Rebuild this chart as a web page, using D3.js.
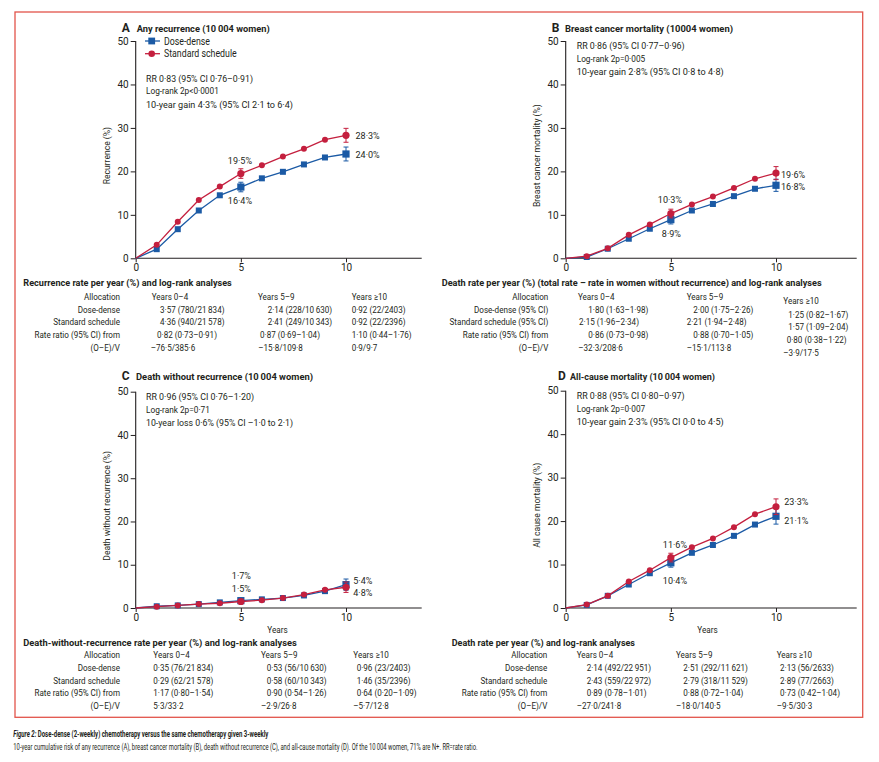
<!DOCTYPE html>
<html><head><meta charset="utf-8">
<script src="https://cdn.jsdelivr.net/npm/d3@7"></script>
<style>
body{margin:0;background:#fff}
svg{display:block}
text{font-family:Roboto,"Noto Sans",sans-serif;fill:#231f20}
</style>
</head><body>
<svg id="c" width="879" height="762"></svg>
<script>
// ---------------- DATA ----------------
const years = [0,1,2,3,4,5,6,7,8,9,10];
const seriesNames = ["Dose-dense","Standard schedule"];

const recurrenceDoseDense = [0,2.1,6.7,11.0,14.5,16.4,18.4,19.9,21.6,23.2,24.0];
const recurrenceStandard  = [0,3.1,8.4,13.4,16.5,19.5,21.4,23.4,25.2,27.3,28.3];
const bcMortDoseDense     = [0,0.3,2.2,4.5,6.8,8.9,11.0,12.5,14.3,16.0,16.8];
const bcMortStandard      = [0,0.5,2.3,5.4,7.8,10.3,12.4,14.2,16.2,18.3,19.6];
const dwrDoseDense        = [0,0.4,0.6,0.9,1.3,1.7,2.0,2.3,2.9,3.9,5.4];
const dwrStandard         = [0,0.3,0.6,0.9,1.1,1.5,1.8,2.3,3.1,4.2,4.8];
const allMortDoseDense    = [0,0.7,2.8,5.4,8.0,10.4,12.7,14.5,16.6,19.2,21.1];
const allMortStandard     = [0,0.8,2.8,6.1,8.7,11.6,14.0,16.0,18.6,21.6,23.3];

// error bar half-widths at years 5 and 10
const errYears = [5,10];
const recurrenceErrDD = [1.1,1.6], recurrenceErrSS = [1.1,1.6];
const bcMortErrDD = [1.0,1.4], bcMortErrSS = [1.0,1.5];
const dwrErrDD = [0.4,1.3], dwrErrSS = [0.4,1.2];
const allMortErrDD = [1.0,1.8], allMortErrSS = [1.0,1.8];

const yTicks = [0,10,20,30,40,50];
const xTicks = [0,5,10];

const panelLetters = ["A","B","C","D"];
const panelTitles = ["Any recurrence (10\u2009004 women)","Breast cancer mortality (10004 women)","Death without recurrence (10\u2009004 women)","All-cause mortality (10\u2009004 women)"];
const yTitles = ["Recurrence (%)","Breast cancer mortality (%)","Death without recurrence (%)","All cause mortality (%)"];

const statsA = ["RR 0\u00b783 (95% CI 0\u00b776\u20130\u00b791)","Log-rank 2p<0\u00b70001","10-year gain 4\u00b73% (95% CI 2\u00b71 to 6\u00b74)"];
const statsB = ["RR 0\u00b786 (95% CI 0\u00b777\u20130\u00b796)","Log-rank 2p=0\u00b7005","10-year gain 2\u00b78% (95% CI 0\u00b78 to 4\u00b78)"];
const statsC = ["RR 0\u00b796 (95% CI 0\u00b776\u20131\u00b720)","Log-rank 2p=0\u00b771","10-year loss 0\u00b76% (95% CI \u20131\u00b70 to 2\u00b71)"];
const statsD = ["RR 0\u00b788 (95% CI 0\u00b780\u20130\u00b797)","Log-rank 2p=0\u00b7007","10-year gain 2\u00b73% (95% CI 0\u00b70 to 4\u00b75)"];

const valueLabelsA = ["19\u00b75%","16\u00b74%","28\u00b73%","24\u00b70%"];
const valueLabelsB = ["10\u00b73%","8\u00b79%","19\u00b76%","16\u00b78%"];
const valueLabelsC = ["1\u00b77%","1\u00b75%","5\u00b74%","4\u00b78%"];
const valueLabelsD = ["11\u00b76%","10\u00b74%","23\u00b73%","21\u00b71%"];

const tableTitles = ["Recurrence rate per year (%) and log-rank analyses",
  "Death rate per year (%) (total rate \u2013 rate in women without recurrence) and log-rank analyses",
  "Death-without-recurrence rate per year (%) and log-rank analyses",
  "Death rate per year (%) and log-rank analyses"];
const colHeaders = ["Years 0\u20134","Years 5\u20139","Years \u226510"];
const rowLabelsA = ["Dose-dense","Standard schedule","Rate ratio (95% CI) from","(O\u2013E)/V"];
const rowLabelsB = ["Dose-dense (95% CI)","Standard schedule (95% CI)","Rate ratio (95% CI) from","(O\u2013E)/V"];
const tableA = [["3\u00b757 (780/21\u2009834)","2\u00b714 (228/10\u2009630)","0\u00b792 (22/2403)"],
                ["4\u00b736 (940/21\u2009578)","2\u00b741 (249/10\u2009343)","0\u00b792 (22/2396)"],
                ["0\u00b782 (0\u00b773\u20130\u00b791)","0\u00b787 (0\u00b769\u20131\u00b704)","1\u00b710 (0\u00b744\u20131\u00b776)"],
                ["\u201376\u00b75/385\u00b76","\u201315\u00b78/109\u00b78","0\u00b79/9\u00b77"]];
const tableB = [["1\u00b780 (1\u00b763\u20131\u00b798)","2\u00b700 (1\u00b775\u20132\u00b726)","1\u00b725 (0\u00b782\u20131\u00b767)"],
                ["2\u00b715 (1\u00b796\u20132\u00b734)","2\u00b721 (1\u00b794\u20132\u00b748)","1\u00b757 (1\u00b709\u20132\u00b704)"],
                ["0\u00b786 (0\u00b773\u20130\u00b798)","0\u00b788 (0\u00b770\u20131\u00b705)","0\u00b780 (0\u00b738\u20131\u00b722)"],
                ["\u201332\u00b73/208\u00b76","\u201315\u00b71/113\u00b78","\u20133\u00b79/17\u00b75"]];
const tableC = [["0\u00b735 (76/21\u2009834)","0\u00b753 (56/10\u2009630)","0\u00b796 (23/2403)"],
                ["0\u00b729 (62/21\u2009578)","0\u00b758 (60/10\u2009343)","1\u00b746 (35/2396)"],
                ["1\u00b717 (0\u00b780\u20131\u00b754)","0\u00b790 (0\u00b754\u20131\u00b726)","0\u00b764 (0\u00b720\u20131\u00b709)"],
                ["5\u00b73/33\u00b72","\u20132\u00b79/26\u00b78","\u20135\u00b77/12\u00b78"]];
const tableD = [["2\u00b714 (492/22\u2009951)","2\u00b751 (292/11\u2009621)","2\u00b713 (56/2633)"],
                ["2\u00b743 (559/22\u2009972)","2\u00b779 (318/11\u2009529)","2\u00b789 (77/2663)"],
                ["0\u00b789 (0\u00b778\u20131\u00b701)","0\u00b788 (0\u00b772\u20131\u00b704)","0\u00b773 (0\u00b742\u20131\u00b704)"],
                ["\u201327\u00b70/241\u00b78","\u201318\u00b70/140\u00b75","\u20139\u00b75/30\u00b73"]];

const captionLabel = "Figure 2: ";
const captionBold = "Dose-dense (2-weekly) chemotherapy versus the same chemotherapy given 3-weekly";
const captionText = "10-year cumulative risk of any recurrence (A), breast cancer mortality (B), death without recurrence (C), and all-cause mortality (D). Of the 10\u2009004 women, 71% are N+. RR=rate ratio.";

// ---------------- STYLE / LAYOUT ----------------
const BLUE = "#1b5aa5", RED = "#c41f3e", INK = "#231f20";
const K = 0.86; // horizontal condensing of text
const svg = d3.select("#c");

function condense(sel, k){ sel.each(function(){ const w=this.getComputedTextLength(); d3.select(this).attr("textLength", w*(k||K)).attr("lengthAdjust","spacingAndGlyphs"); }); return sel; }
function fitW(sel, w){ return sel.attr("textLength", w).attr("lengthAdjust","spacingAndGlyphs"); }

svg.append("rect").attr("x",15).attr("y",12).attr("width",847.7).attr("height",705.3)
  .attr("fill","none").attr("stroke","#e2544b").attr("stroke-width",1.3);

const panels = [
  {L:135.7, xEnd:421.7, yTop:41, yBot:258.3, dd:recurrenceDoseDense, ss:recurrenceStandard, eDD:recurrenceErrDD, eSS:recurrenceErrSS,
   stats:statsA, sx:146, sy:[81.6,94.3,107.6], sw:[107,null,147], labels:valueLabelsA,
   lab:[["ss",5,-13,-10],["dd",5,-13,16.5],["ss",10,9.5,4],["dd",10,9.5,4.5]], titleX:[121.7,136.7], titleW:133, titleY:32, yTitleX:106.7, years:false},
  {L:565.7, xEnd:856.7, yTop:41, yBot:258.3, dd:bcMortDoseDense, ss:bcMortStandard, eDD:bcMortErrDD, eSS:bcMortErrSS,
   stats:statsB, sx:576.7, sy:[49.3,62,74.8], sw:[108,null,147], labels:valueLabelsB,
   lab:[["ss",5,-13,-11],["dd",5,-9,17],["ss",10,5,4.7],["dd",10,5,4.5]], titleX:[551.7,565], titleW:168, titleY:32, yTitleX:536.7, years:false},
  {L:135.7, xEnd:421.7, yTop:391.7, yBot:608, dd:dwrDoseDense, ss:dwrStandard, eDD:dwrErrDD, eSS:dwrErrSS,
   stats:statsC, sx:146, sy:[400,412.6,425.6], sw:[108,null,147], labels:valueLabelsC,
   lab:[["dd",5,-9,-22],["ss",5,-9,-9.7],["dd",10,7.3,-1],["ss",10,7.3,8.3]], titleX:[121.7,136], titleW:177, titleY:379.5, yTitleX:106.7, years:true},
  {L:565.7, xEnd:856.7, yTop:390.7, yBot:608, dd:allMortDoseDense, ss:allMortStandard, eDD:allMortErrDD, eSS:allMortErrSS,
   stats:statsD, sx:576.7, sy:[399,411.6,425], sw:[108,null,147], labels:valueLabelsD,
   lab:[["ss",5,-8,-9.8],["dd",5,-8,21.4],["ss",10,8.3,-1.5],["dd",10,8.3,8.2]], titleX:[558,570], titleW:145, titleY:379.5, yTitleX:536.7, years:true}
];

panels.forEach((p,i)=>{
  const g = svg.append("g");
  const x10 = (i%2===0)?346:776;
  const x = d3.scaleLinear().domain([0,10]).range([p.L, x10]);
  const y = d3.scaleLinear().domain([0,50]).range([p.yBot, p.yTop]);

  g.append("text").attr("x",p.titleX[0]).attr("y",p.titleY).attr("font-weight","bold").attr("font-size",12).text(panelLetters[i]);
  fitW(g.append("text").attr("x",p.titleX[1]).attr("y",p.titleY).attr("font-weight","bold").attr("font-size",9.8).text(panelTitles[i]), p.titleW);

  const ya = g.append("g").attr("transform",`translate(${p.L},0)`)
    .call(d3.axisLeft(y).tickValues(yTicks).tickSize(5).tickPadding(2).tickFormat(d3.format("d")));
  const xa = g.append("g").attr("transform",`translate(0,${p.yBot})`)
    .call(d3.axisBottom(x).tickValues(xTicks).tickSize(4).tickPadding(2).tickFormat(d3.format("d")));
  [ya,xa].forEach(a=>{ a.select(".domain").remove(); a.selectAll("line").attr("stroke",INK);
    a.selectAll("text").attr("font-size",10).attr("fill",INK).attr("font-family","Roboto,sans-serif"); });
  g.append("line").attr("x1",p.L).attr("x2",p.L).attr("y1",p.yTop).attr("y2",p.yBot).attr("stroke",INK).attr("stroke-width",1.1);
  g.append("line").attr("x1",p.L).attr("x2",p.xEnd).attr("y1",p.yBot).attr("y2",p.yBot).attr("stroke",INK).attr("stroke-width",1.1);

  const yc = (p.yTop+p.yBot)/2 + 6;
  condense(g.append("text").attr("transform",`translate(${p.yTitleX+3},${yc}) rotate(-90)`).attr("text-anchor","middle")
    .attr("font-size",9.5).text(yTitles[i]), 0.9);
  if(p.years){
    condense(g.append("text").attr("x",(i%2===0)?277.5:707.5).attr("y",633.3).attr("text-anchor","middle").attr("font-size",9.5).text("Years"));
  }

  const line = d3.line().x((d,j)=>x(years[j])).y(d=>y(d));
  const ser = {dd:{v:p.dd,c:BLUE,e:p.eDD}, ss:{v:p.ss,c:RED,e:p.eSS}};
  ["dd","ss"].forEach(k=>{
    const s = ser[k];
    g.append("path").datum(s.v).attr("d",line).attr("fill","none").attr("stroke",s.c).attr("stroke-width",1.3);
    errYears.forEach((yr,j)=>{
      const v = s.v[years.indexOf(yr)], e = s.e[j], cx = x(yr);
      g.append("line").attr("x1",cx).attr("x2",cx).attr("y1",y(v-e)).attr("y2",y(v+e)).attr("stroke",s.c).attr("stroke-width",1);
      [v-e,v+e].forEach(b=>g.append("line").attr("x1",cx-2.5).attr("x2",cx+2.5).attr("y1",y(b)).attr("y2",y(b)).attr("stroke",s.c).attr("stroke-width",1));
    });
    const pts = years.map((yr,j)=>({yr, v:s.v[j], big: yr===5||yr===10})).filter(d=>d.yr>0);
    if(k==="dd"){
      g.selectAll(null).data(pts).enter().append("rect")
        .attr("x",d=>x(d.yr)-(d.big?3.6:3)).attr("y",d=>y(d.v)-(d.big?3.6:3))
        .attr("width",d=>d.big?7.2:6).attr("height",d=>d.big?7.2:6).attr("fill",s.c);
    } else {
      g.selectAll(null).data(pts).enter().append("circle")
        .attr("cx",d=>x(d.yr)).attr("cy",d=>y(d.v)).attr("r",d=>d.big?3.6:3).attr("fill",s.c);
    }
  });

  p.lab.forEach((l,j)=>{
    const s = ser[l[0]], v = s.v[years.indexOf(l[1])];
    condense(g.append("text").attr("x",x(l[1])+l[2]).attr("y",y(v)+l[3]).attr("font-size",9.8).text(p.labels[j]), 0.92);
  });

  p.stats.forEach((t,j)=>{
    const te = g.append("text").attr("x",p.sx).attr("y",p.sy[j]).attr("font-size",9.6).text(t);
    if(p.sw[j]) fitW(te,p.sw[j]); else condense(te, 0.86);
  });

  if(i===0){
    seriesNames.forEach((n,j)=>{
      const ly = 41 + j*12.7, c = j===0?BLUE:RED;
      g.append("line").attr("x1",145).attr("x2",160).attr("y1",ly).attr("y2",ly).attr("stroke",c).attr("stroke-width",1.3);
      if(j===0) g.append("rect").attr("x",148.3).attr("y",ly-3.4).attr("width",6.8).attr("height",6.8).attr("fill",c);
      else g.append("circle").attr("cx",151.7).attr("cy",ly).attr("r",3.3).attr("fill",c);
      fitW(g.append("text").attr("x",164).attr("y",ly+3.5).attr("font-size",10.2).text(n), j===0?46:72.7);
    });
  }
});

// ---------------- TABLES ----------------
const tables = [
  {title:tableTitles[0], tx:23.3, ty:286.3, tw:208.5, labelsR:120, rows:[296.7,309.3,322,334.7,347.3], rowLabels:rowLabelsA, data:tableA,
   hx:[151.7,258,351.7], hy:[296.7,296.7,296.7],
   cx:[[160,267.7,351.7],[160,267.7,351.7],[157,260,351.7],[150.7,258.3,351.7]], colY3:null},
  {title:tableTitles[1], tx:441.7, ty:286.3, tw:380, labelsR:548.3, rows:[296.7,309.3,322,334.7,347.3], rowLabels:rowLabelsB, data:tableB,
   hx:[578,686.7,783.3], hy:[296.7,296.7,301],
   cx:[[588.3,693.3,788.3],[579,686.7,788.3],[588.3,693.3,786.7],[578.3,686.7,783.3]], colY3:[314.3,327,340,353]},
  {title:tableTitles[2], tx:23.3, ty:646, tw:273.5, labelsR:120, rows:[655,667.7,680.3,693,705.7], rowLabels:rowLabelsA, data:tableC,
   hx:[153.3,261,353.3], hy:[655,655,655],
   cx:[[153.3,266.7,356.7],[153.3,266.7,356.7],[153.3,266.7,356.7],[153.3,261,353.3]], colY3:null},
  {title:tableTitles[3], tx:451.7, ty:646, tw:183.3, labelsR:547.3, rows:[655,667.7,680.3,693,705.7], rowLabels:rowLabelsA, data:tableD,
   hx:[576.7,676,776.7], hy:[655,655,655],
   cx:[[586.7,683.3,780],[586.7,683.3,780],[586.7,683.3,780],[576.7,676,776.7]], colY3:null}
];
const FS = 9.4, BL = 3.3;
tables.forEach(t=>{
  const g = svg.append("g");
  fitW(g.append("text").attr("x",t.tx).attr("y",t.ty).attr("font-weight","bold").attr("font-size",9.6).text(t.title), t.tw);
  condense(g.append("text").attr("x",t.labelsR).attr("y",t.rows[0]+BL).attr("text-anchor","end").attr("font-size",FS).text("Allocation"));
  t.rowLabels.forEach((r,j)=>condense(g.append("text").attr("x",t.labelsR).attr("y",t.rows[j+1]+BL).attr("text-anchor","end").attr("font-size",FS).text(r)));
  colHeaders.forEach((h,c)=>condense(g.append("text").attr("x",t.hx[c]).attr("y",t.hy[c]+BL).attr("font-size",FS).text(h)));
  t.data.forEach((row,j)=>row.forEach((v,c)=>{
    const yy = (c===2 && t.colY3) ? t.colY3[j] : t.rows[j+1];
    condense(g.append("text").attr("x",t.cx[j][c]).attr("y",yy+BL).attr("font-size",FS).text(v));
  }));
});

// ---------------- CAPTION ----------------
function scaledLine(x0, y0, targetW, build){
  const g = svg.append("g");
  const t = g.append("text").attr("x",0).attr("y",0).attr("font-size",9.6);
  build(t);
  const w = t.node().getComputedTextLength();
  g.attr("transform",`translate(${x0},${y0}) scale(${targetW/w},1)`);
}
scaledLine(13.3, 736.8, 255, t=>{
  t.attr("font-weight","bold");
  t.append("tspan").attr("font-style","italic").text(captionLabel);
  t.append("tspan").text(captionBold);
});
scaledLine(13.3, 750.2, 465, t=>t.text(captionText));
</script>
</body></html>
